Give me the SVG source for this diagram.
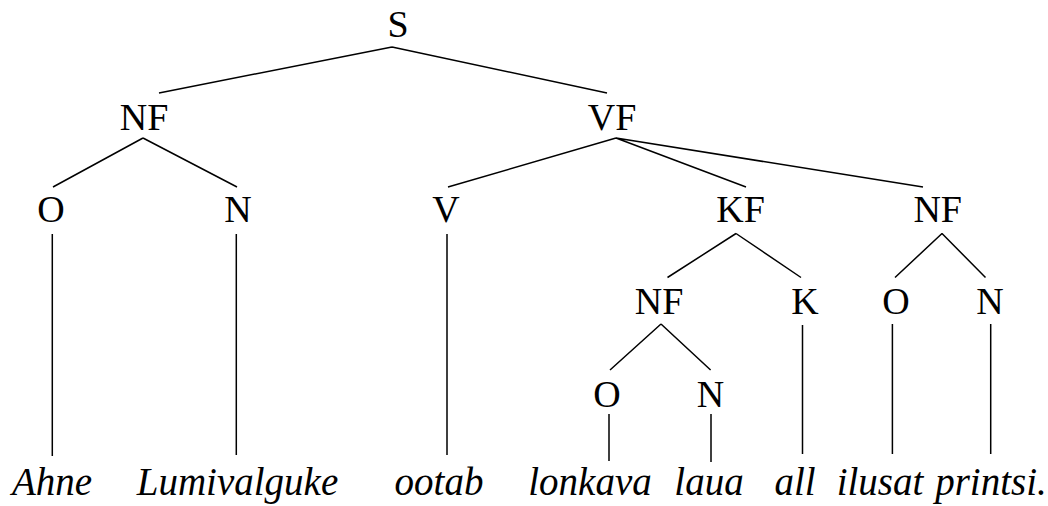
<svg xmlns="http://www.w3.org/2000/svg" width="1048" height="506" viewBox="0 0 1048 506">
<style>
.lbl{font-family:'Liberation Serif','Times New Roman',Tinos,'DejaVu Serif',serif;font-size:38px;fill:#000;text-anchor:middle}
.word{font-family:'Liberation Serif','Times New Roman',Tinos,'DejaVu Serif',serif;font-style:italic;font-size:39px;fill:#000;text-anchor:middle}
.edge{stroke:#000;stroke-width:1.5;fill:none}
</style>
<rect width="1048" height="506" fill="#fff"/>
<g id="connectors" class="edge">
<path d="M392,47 L159,93 M392,47 L607,93"/>
<path d="M143,138 L53,187 M143,138 L237,187"/>
<path d="M616,138 L448,187 M616,138 L746,187 M616,138 L923,187"/>
<path d="M52.3,234 V456 M236.3,234 V455 M447,234 V455"/>
<path d="M736,233.5 L667.5,277.5 M736,233.5 L801,277.5"/>
<path d="M942,233.5 L895,277.5 M942,233.5 L985.5,277.5"/>
<path d="M661,324 L610,370 M661,324 L710.6,370"/>
<path d="M802.5,325 V454 M892.4,324 V454 M990.7,324 V454"/>
<path d="M609,414 V461 M711,414 V462"/>
</g>
<g id="n-S"><text class="lbl" font-family="Liberation Serif, serif" x="398" y="37">S</text></g>
<g id="n-NF1"><text class="lbl" font-family="Liberation Serif, serif" x="144" y="130">NF</text></g>
<g id="n-VF"><text class="lbl" font-family="Liberation Serif, serif" x="612" y="130">VF</text></g>
<g id="n-O1"><text class="lbl" font-family="Liberation Serif, serif" x="51" y="222">O</text></g>
<g id="n-N1"><text class="lbl" font-family="Liberation Serif, serif" x="238" y="222">N</text></g>
<g id="n-V"><text class="lbl" font-family="Liberation Serif, serif" x="446" y="222">V</text></g>
<g id="n-KF"><text class="lbl" font-family="Liberation Serif, serif" x="740.5" y="222">KF</text></g>
<g id="n-NF2"><text class="lbl" font-family="Liberation Serif, serif" x="937.7" y="222">NF</text></g>
<g id="n-NF3"><text class="lbl" font-family="Liberation Serif, serif" x="659" y="314">NF</text></g>
<g id="n-K"><text class="lbl" font-family="Liberation Serif, serif" x="805" y="314">K</text></g>
<g id="n-O3"><text class="lbl" font-family="Liberation Serif, serif" x="896" y="314">O</text></g>
<g id="n-N3"><text class="lbl" font-family="Liberation Serif, serif" x="990" y="314">N</text></g>
<g id="n-O4"><text class="lbl" font-family="Liberation Serif, serif" x="607" y="407">O</text></g>
<g id="n-N4"><text class="lbl" font-family="Liberation Serif, serif" x="710.6" y="407">N</text></g>
<g id="w-Ahne"><text class="word" font-family="Liberation Serif, serif" x="52" y="495">Ahne</text></g>
<g id="w-Lumivalguke"><text class="word" font-family="Liberation Serif, serif" x="237.5" y="495">Lumivalguke</text></g>
<g id="w-ootab"><text class="word" font-family="Liberation Serif, serif" x="439" y="495">ootab</text></g>
<g id="w-lonkava"><text class="word" font-family="Liberation Serif, serif" x="590" y="495">lonkava</text></g>
<g id="w-laua"><text class="word" font-family="Liberation Serif, serif" x="709" y="495">laua</text></g>
<g id="w-all"><text class="word" font-family="Liberation Serif, serif" x="795" y="495">all</text></g>
<g id="w-ilusat"><text class="word" font-family="Liberation Serif, serif" x="880" y="495">ilusat</text></g>
<g id="w-printsi"><text class="word" font-family="Liberation Serif, serif" x="991" y="495">printsi.</text></g>
</svg>
